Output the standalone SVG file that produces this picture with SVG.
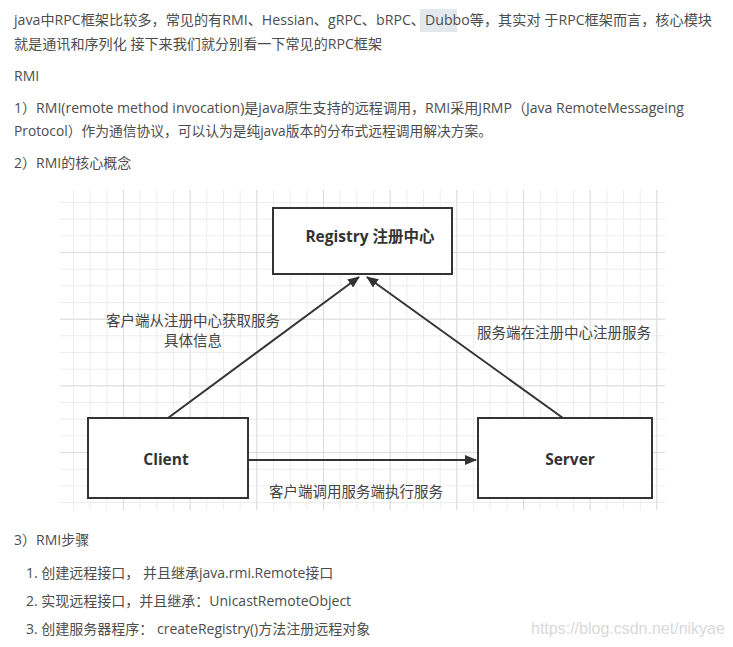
<svg xmlns="http://www.w3.org/2000/svg" width="733" height="647" viewBox="0 0 733 647">
<defs>
<style>
.body{font-family:"Open Sans","Noto Sans CJK SC",sans-serif;font-size:14px;fill:#4d4d4d;}
.box{fill:#fff;stroke:#333;stroke-width:2;}
.nodeText{font-family:"Open Sans","Noto Sans CJK SC",sans-serif;font-size:15.5px;font-weight:bold;fill:#333;text-anchor:middle;}
.lbl{font-family:"Noto Sans CJK SC",sans-serif;font-size:14.5px;fill:#444;text-anchor:middle;}
.edge{stroke:#333;stroke-width:2;fill:none;}
.minor{stroke:#ececec;stroke-width:1;}
.major{stroke:#dcdcdc;stroke-width:1;}
</style>
<marker id="arr" viewBox="0 0 12 10" refX="11" refY="5" markerWidth="12" markerHeight="10" markerUnits="userSpaceOnUse" orient="auto">
<path d="M0,0 L12,5 L0,10 z" fill="#333"/>
</marker>
<pattern id="gridMinor" x="56.3" y="185.3" width="16.67" height="16.67" patternUnits="userSpaceOnUse">
<path d="M0,0.5 H16.67 M0.5,0 V16.67" class="minor"/>
</pattern>
<pattern id="gridMajor" x="56.3" y="185.3" width="66.67" height="66.67" patternUnits="userSpaceOnUse">
<path d="M0,0.5 H66.67 M0.5,0 V66.67" class="major"/>
</pattern>
</defs>
<rect width="733" height="647" fill="#fff"/>

<g id="text-top">
<rect x="420" y="9" width="37" height="23" fill="#e3e8ee"/>
<text class="body" x="14" y="25" textLength="698" lengthAdjust="spacingAndGlyphs">java中RPC框架比较多，常见的有RMI、Hessian、gRPC、bRPC、Dubbo等，其实对 于RPC框架而言，核心模块</text>
<text class="body" x="14" y="49" textLength="368" lengthAdjust="spacingAndGlyphs">就是通讯和序列化 接下来我们就分别看一下常见的RPC框架</text>
<text class="body" x="14" y="81">RMI</text>
<text class="body" x="14" y="113" textLength="670" lengthAdjust="spacingAndGlyphs">1）RMI(remote method invocation)是java原生支持的远程调用，RMI采用JRMP（Java RemoteMessageing</text>
<text class="body" x="14" y="136" textLength="478" lengthAdjust="spacingAndGlyphs">Protocol）作为通信协议，可以认为是纯java版本的分布式远程调用解决方案。</text>
<text class="body" x="14" y="168">2）RMI的核心概念</text>
</g>

<g id="grid">
<rect x="60" y="190" width="605" height="320" fill="url(#gridMinor)"/>
<rect x="60" y="190" width="605" height="320" fill="url(#gridMajor)"/>
</g>

<g id="connectors">
<line class="edge" x1="168" y1="418" x2="359" y2="277" marker-end="url(#arr)"/>
<line class="edge" x1="563" y1="418" x2="367" y2="277" marker-end="url(#arr)"/>
<line class="edge" x1="248" y1="460" x2="476" y2="460" marker-end="url(#arr)"/>
<text class="lbl" x="193" y="326">客户端从注册中心获取服务</text>
<text class="lbl" x="193" y="346">具体信息</text>
<text class="lbl" x="564" y="338">服务端在注册中心注册服务</text>
<text class="lbl" x="356" y="497">客户端调用服务端执行服务</text>
</g>

<g id="registry">
<rect class="box" x="273" y="208" width="179" height="66"/>
<text class="nodeText" x="370" y="242">Registry 注册中心</text>
</g>
<g id="client">
<rect class="box" x="88" y="418" width="160" height="80"/>
<text class="nodeText" x="166" y="465">Client</text>
</g>
<g id="server">
<rect class="box" x="478" y="418" width="174" height="80"/>
<text class="nodeText" x="570" y="465">Server</text>
</g>

<g id="text-bottom">
<text class="body" x="14" y="545">3）RMI步骤</text>
<text class="body" x="26" y="578">1. 创建远程接口， 并且继承java.rmi.Remote接口</text>
<text class="body" x="26" y="606">2. 实现远程接口，并且继承：UnicastRemoteObject</text>
<text class="body" x="26" y="634">3. 创建服务器程序： createRegistry()方法注册远程对象</text>
<text x="531" y="634" style="font-family:'Liberation Sans',sans-serif;font-size:16px;fill:#d9d9d9;">https://blog.csdn.net/nikyae</text>
</g>
</svg>
